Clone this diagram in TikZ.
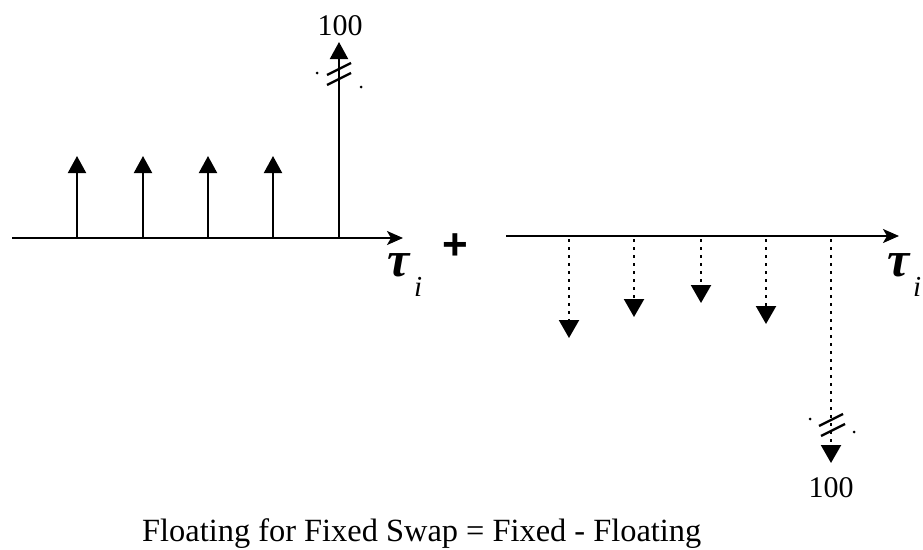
\documentclass[tikz,border=0pt]{standalone}
\usepackage{fontspec}
\setmainfont{Liberation Serif}
\newfontfamily\plusfont{Liberation Sans}
\usetikzlibrary{arrows.meta}
\begin{document}
\begin{tikzpicture}[x=1pt,y=-1pt,
  axisline/.style={line width=2pt,-{Stealth[length=16pt,width=14pt,inset=4pt]}},
  stem/.style={line width=2pt,-{Triangle[length=17pt,width=18pt]}},
  dotstem/.style={line width=2.2pt,dash pattern=on 3pt off 5pt,-{Triangle[length=18pt,width=20pt]}},
  brk/.style={line width=2.4pt},
  dotmark/.style={circle,fill=black,inner sep=0pt,minimum size=3pt},
  numlabel/.style={font=\fontsize{30}{30}\selectfont,inner sep=0pt,anchor=base},
  taulabel/.style={inner sep=0pt,anchor=base west}]
\useasboundingbox (0,0) rectangle (923,549);
% left axis
\coordinate (L0) at (12,238);
\coordinate (L1) at (403,238);
\draw[axisline] (L0) -- (L1);
\foreach \x/\n in {77/a,143/b,208/c,273/d}{
  \coordinate (b\n) at (\x,238);
  \coordinate (t\n) at (\x,156);
  \draw[stem] (b\n) -- (t\n);
}
\coordinate (be) at (339,238);
\coordinate (te) at (339,42);
\draw[stem] (be) -- (te);
\coordinate (bk1) at (339,69);
\coordinate (bk2) at (339,79);
\draw[brk] ([shift={(-12,6)}]bk1) -- ([shift={(12,-6)}]bk1);
\draw[brk] ([shift={(-12,6)}]bk2) -- ([shift={(12,-6)}]bk2);
\node[dotmark] (d1) at (317,73) {};
\node[dotmark] (d2) at (361,87) {};
\node[numlabel] (n1) at (340,35) {100};
\node[taulabel] (tau1) at (387,276) {\fontsize{50}{50}\selectfont\bfseries\itshape τ};
\node[taulabel] (i1) at (414,296) {\fontsize{29}{29}\selectfont\itshape i};
% plus
\node[inner sep=0pt] (plus) at (455,247) {\plusfont\bfseries\fontsize{44}{44}\selectfont +};
% right axis
\coordinate (R0) at (506,236);
\coordinate (R1) at (899,236);
\draw[axisline] (R0) -- (R1);
\foreach \x/\y/\n in {569/338/p,634/317/q,701/303/r,766/324/s}{
  \coordinate (u\n) at (\x,239);
  \coordinate (v\n) at (\x,\y);
  \draw[dotstem] (u\n) -- (v\n);
}
\coordinate (ue) at (831,239);
\coordinate (ve) at (831,463);
\draw[dotstem] (ue) -- (ve);
\coordinate (bk3) at (831,420);
\coordinate (bk4) at (833,430);
\draw[brk] ([shift={(-12,6)}]bk3) -- ([shift={(12,-6)}]bk3);
\draw[brk] ([shift={(-12,6)}]bk4) -- ([shift={(12,-6)}]bk4);
\node[dotmark] (d3) at (810,419) {};
\node[dotmark] (d4) at (854,432) {};
\node[numlabel] (n2) at (831,497) {100};
\node[taulabel] (tau2) at (887,276) {\fontsize{50}{50}\selectfont\bfseries\itshape τ};
\node[taulabel] (i2) at (913,296) {\fontsize{29}{29}\selectfont\itshape i};
% caption
\node[inner sep=0pt,anchor=base west,font=\fontsize{32.4}{33}\selectfont] (cap) at (142,541) {Floating for Fixed Swap = Fixed - Floating};
\end{tikzpicture}
\end{document}
